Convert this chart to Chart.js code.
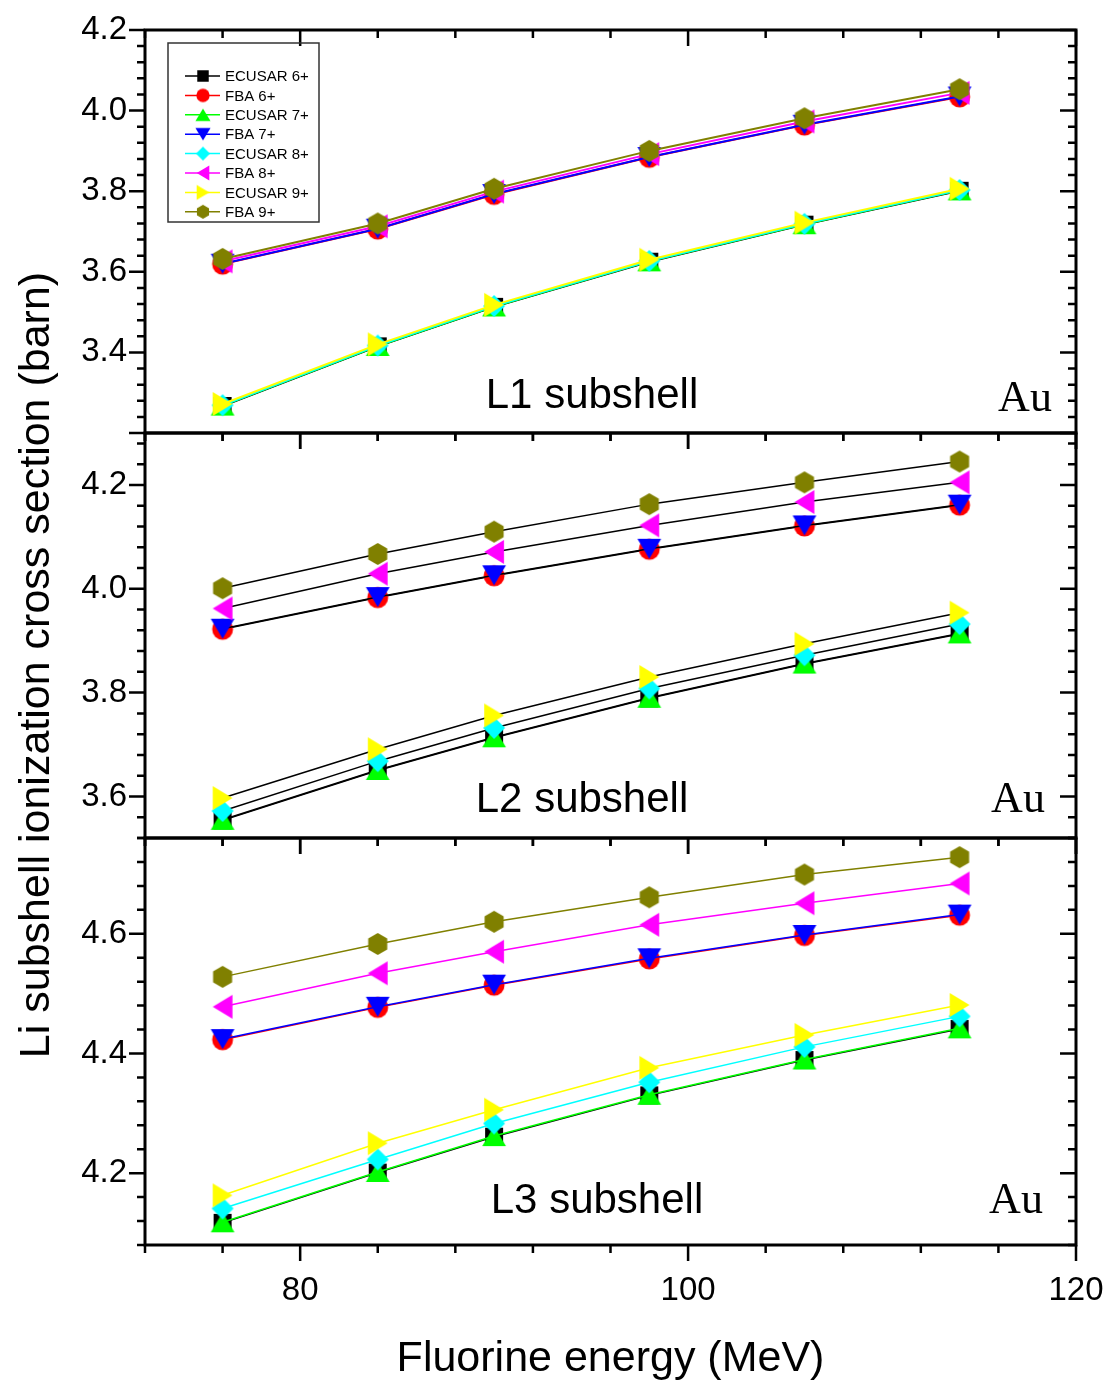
<!DOCTYPE html>
<html>
<head>
<meta charset="utf-8">
<script src="https://cdn.jsdelivr.net/npm/chart.js@4.4.1/dist/chart.umd.min.js"></script>
<style>
  html, body { margin: 0; padding: 0; background: #fff; }
  #wrap { position: relative; width: 1111px; height: 1384px; }
  #wrap canvas { position: absolute; left: 0; top: 0; }
</style>
</head>
<body>
<div id="wrap">
  <canvas id="l1" width="1111" height="1384"></canvas>
  <canvas id="l2" width="1111" height="1384"></canvas>
  <canvas id="l3" width="1111" height="1384"></canvas>
</div>
<script>
// x values: fluorine energy (MeV)
const energies = [76, 84, 90, 98, 106, 114];

const seriesNames = ["ECUSAR 6+", "FBA 6+", "ECUSAR 7+", "FBA 7+", "ECUSAR 8+", "FBA 8+", "ECUSAR 9+", "FBA 9+"];
const seriesColors = ["#000000", "#ff0000", "#00ff00", "#0000ff", "#00ffff", "#ff00ff", "#ffff00", "#808000"];
const seriesShapes = ["square", "circle", "up", "down", "diamond", "left", "right", "hexagon"];

// L1 subshell, rows in seriesNames order
const l1Values = [
  [3.267, 3.415, 3.513, 3.625, 3.717, 3.801],
  [3.619, 3.706, 3.792, 3.884, 3.964, 4.034],
  [3.268, 3.416, 3.514, 3.626, 3.718, 3.802],
  [3.620, 3.707, 3.793, 3.885, 3.965, 4.035],
  [3.269, 3.417, 3.515, 3.627, 3.719, 3.803],
  [3.626, 3.713, 3.799, 3.892, 3.973, 4.044],
  [3.272, 3.420, 3.518, 3.630, 3.722, 3.806],
  [3.632, 3.720, 3.806, 3.900, 3.981, 4.053],
];

// L2 subshell
const l2Values = [
  [3.554, 3.650, 3.713, 3.789, 3.855, 3.913],
  [3.922, 3.983, 4.025, 4.076, 4.121, 4.161],
  [3.555, 3.651, 3.714, 3.790, 3.856, 3.914],
  [3.923, 3.984, 4.026, 4.077, 4.122, 4.162],
  [3.572, 3.668, 3.732, 3.808, 3.872, 3.932],
  [3.962, 4.029, 4.071, 4.122, 4.167, 4.205],
  [3.597, 3.691, 3.756, 3.830, 3.894, 3.954],
  [4.001, 4.067, 4.110, 4.163, 4.205, 4.245],
];

// L3 subshell
const l3Values = [
  [4.117, 4.201, 4.261, 4.330, 4.389, 4.441],
  [4.423, 4.477, 4.514, 4.558, 4.597, 4.631],
  [4.118, 4.202, 4.262, 4.331, 4.390, 4.442],
  [4.424, 4.478, 4.515, 4.559, 4.598, 4.632],
  [4.141, 4.223, 4.283, 4.352, 4.411, 4.462],
  [4.478, 4.534, 4.570, 4.615, 4.651, 4.684],
  [4.163, 4.250, 4.306, 4.376, 4.431, 4.481],
  [4.528, 4.583, 4.620, 4.661, 4.699, 4.728],
];

const xTicks = [80, 100, 120];
const l1Ticks = [3.4, 3.6, 3.8, 4.0, 4.2];
const l2Ticks = [3.6, 3.8, 4.0, 4.2];
const l3Ticks = [4.2, 4.4, 4.6];

const xTitle = "Fluorine energy (MeV)";
const yTitle = "Li subshell ionization cross section (barn)";

const SANS = '"Liberation Sans", Arial, sans-serif';
const SERIF = '"Liberation Serif", "Times New Roman", serif';

const panels = [
  { id: "l1", top: 30, bottom: 433, min: 3.2, max: 4.2, values: l1Values, ticks: l1Ticks,
    label: "L1 subshell", labelX: 592, labelY: 408, auX: 1025, auY: 411,
    lineWidth: 2, blackLines: false, legend: true },
  { id: "l2", top: 433, bottom: 838, min: 3.52, max: 4.3, values: l2Values, ticks: l2Ticks,
    label: "L2 subshell", labelX: 582, labelY: 812, auX: 1018, auY: 812,
    lineWidth: 1.5, blackLines: true, legend: false },
  { id: "l3", top: 838, bottom: 1245, min: 4.08, max: 4.76, values: l3Values, ticks: l3Ticks,
    label: "L3 subshell", labelX: 597, labelY: 1213, auX: 1016, auY: 1213,
    lineWidth: 1.5, blackLines: false, legend: false, last: true },
];

function shapePath(ctx, shape, r) {
  ctx.beginPath();
  if (shape === "square") {
    ctx.rect(-r * 0.82, -r * 0.82, r * 1.64, r * 1.64);
  } else if (shape === "circle") {
    ctx.arc(0, 0, r * 0.95, 0, Math.PI * 2);
  } else if (shape === "diamond") {
    ctx.moveTo(0, -r); ctx.lineTo(r, 0); ctx.lineTo(0, r); ctx.lineTo(-r, 0);
  } else if (shape === "hexagon") {
    for (let k = 0; k < 6; k++) {
      const a = -Math.PI / 2 + k * Math.PI / 3;
      if (k === 0) ctx.moveTo(r * Math.cos(a), r * Math.sin(a));
      else ctx.lineTo(r * Math.cos(a), r * Math.sin(a));
    }
  } else {
    const h = r * 0.9, w = r * 1.08;
    const pts = {
      up: [[0, -h], [w, h], [-w, h]],
      down: [[0, h], [w, -h], [-w, -h]],
      left: [[-h, 0], [h, -w], [h, w]],
      right: [[h, 0], [-h, -w], [-h, w]],
    }[shape];
    ctx.moveTo(pts[0][0], pts[0][1]);
    ctx.lineTo(pts[1][0], pts[1][1]);
    ctx.lineTo(pts[2][0], pts[2][1]);
  }
  ctx.closePath();
}

function makeMarker(shape, color, r) {
  const c = document.createElement("canvas");
  const s = Math.ceil(2 * r + 4);
  c.width = s; c.height = s;
  const ctx = c.getContext("2d");
  ctx.translate(s / 2, s / 2);
  shapePath(ctx, shape, r);
  ctx.fillStyle = color;
  ctx.fill();
  return c;
}

const markers = seriesShapes.map((s, i) => makeMarker(s, seriesColors[i], 11));
const legendMarkers = seriesShapes.map((s, i) => makeMarker(s, seriesColors[i], 7));

function drawFrame(chart, p) {
  const { ctx, chartArea: a } = chart;
  const xs = chart.scales.x, ys = chart.scales.y;
  ctx.save();
  ctx.strokeStyle = "#000";
  ctx.lineWidth = 2.5;
  // y ticks every 0.04, major every 0.2
  for (let k = 0; ; k++) {
    const v = Math.round((p.min + k * 0.04) * 1000) / 1000;
    if (v > p.max + 1e-9) break;
    const major = Math.abs(v / 0.2 - Math.round(v / 0.2)) < 1e-6;
    const len = major ? 16 : 8;
    const y = ys.getPixelForValue(v);
    ctx.beginPath();
    ctx.moveTo(a.left - len, y); ctx.lineTo(a.left, y);
    ctx.moveTo(a.right - len, y); ctx.lineTo(a.right, y);
    ctx.stroke();
  }
  // x ticks every 4, major every 20
  for (let v = 72; v <= 120; v += 4) {
    const major = v % 20 === 0;
    const len = major ? 16 : 8;
    const x = xs.getPixelForValue(v);
    ctx.beginPath();
    ctx.moveTo(x, a.top); ctx.lineTo(x, a.top + len);
    ctx.moveTo(x, a.bottom); ctx.lineTo(x, a.bottom + len);
    ctx.stroke();
  }
  ctx.lineWidth = 3;
  ctx.strokeRect(a.left, a.top, a.right - a.left, a.bottom - a.top);

  ctx.fillStyle = "#000";
  ctx.textBaseline = "alphabetic";
  ctx.textAlign = "center";
  ctx.font = "42px " + SANS;
  ctx.fillText(p.label, p.labelX, p.labelY);
  ctx.font = "44px " + SERIF;
  ctx.fillText("Au", p.auX, p.auY);

  if (p.legend) {
    const bx = a.left + 23, by = a.top + 13, bw = 151, bh = 179;
    ctx.lineWidth = 1.5;
    ctx.strokeStyle = "#333";
    ctx.strokeRect(bx, by, bw, bh);
    ctx.font = "15px " + SANS;
    ctx.textAlign = "left";
    ctx.textBaseline = "middle";
    seriesNames.forEach((name, i) => {
      const y = by + 33 + i * 19.4;
      ctx.strokeStyle = seriesColors[i];
      ctx.lineWidth = 1.5;
      ctx.beginPath();
      ctx.moveTo(bx + 17, y); ctx.lineTo(bx + 52, y);
      ctx.stroke();
      const m = legendMarkers[i];
      ctx.drawImage(m, bx + 35 - m.width / 2, y - m.height / 2);
      ctx.fillStyle = "#000";
      ctx.fillText(name, bx + 57, y + 1);
    });
  }

  if (p.last) {
    // x tick labels placed through the x scale
    ctx.textAlign = "center";
    ctx.textBaseline = "middle";
    ctx.font = "33px " + SANS;
    xTicks.forEach((v) => ctx.fillText(String(v), xs.getPixelForValue(v), a.bottom + 46));

    ctx.textBaseline = "alphabetic";
    ctx.font = "43px " + SANS;
    ctx.fillText(xTitle, (a.left + a.right) / 2, 1371);
    ctx.save();
    ctx.translate(49, 665);
    ctx.rotate(-Math.PI / 2);
    ctx.fillText(yTitle, 0, 0);
    ctx.restore();
  }
  ctx.restore();
}

panels.forEach((p) => {
  const datasets = seriesNames.map((name, i) => ({
    label: name,
    data: energies.map((x, j) => ({ x: x, y: p.values[i][j] })),
    borderColor: p.blackLines ? "#000000" : seriesColors[i],
    backgroundColor: seriesColors[i],
    borderWidth: p.lineWidth,
    pointStyle: markers[i],
    pointRadius: 11,
    tension: 0,
    fill: false,
    order: 7 - i,
  }));

  new Chart(document.getElementById(p.id), {
    type: "line",
    data: { datasets },
    options: {
      responsive: false,
      animation: false,
      events: [],
      layout: {
        autoPadding: false,
        padding: { left: 0, right: 35, top: p.top, bottom: p.last ? 0 : 1384 - p.bottom },
      },
      plugins: { legend: { display: false }, tooltip: { enabled: false } },
      scales: {
        x: {
          type: "linear",
          min: 72,
          max: 120,
          display: !!p.last,
          grid: { display: false },
          border: { display: false },
          afterBuildTicks: (s) => { s.ticks = xTicks.map((v) => ({ value: v })); },
          afterFit: (s) => { if (p.last) s.height = 1384 - 1245; },
          ticks: { display: false },
        },
        y: {
          type: "linear",
          min: p.min,
          max: p.max,
          grid: { display: false },
          border: { display: false },
          afterBuildTicks: (s) => { s.ticks = p.ticks.map((v) => ({ value: v })); },
          afterFit: (s) => { s.width = 145; },
          ticks: { font: { size: 33, family: SANS }, color: "#000", padding: 10, autoSkip: false,
                   callback: (v) => Number(v).toFixed(1) },
        },
      },
    },
    plugins: [{ id: "frame", afterDraw: (chart) => drawFrame(chart, p) }],
  });
});
</script>
</body>
</html>
